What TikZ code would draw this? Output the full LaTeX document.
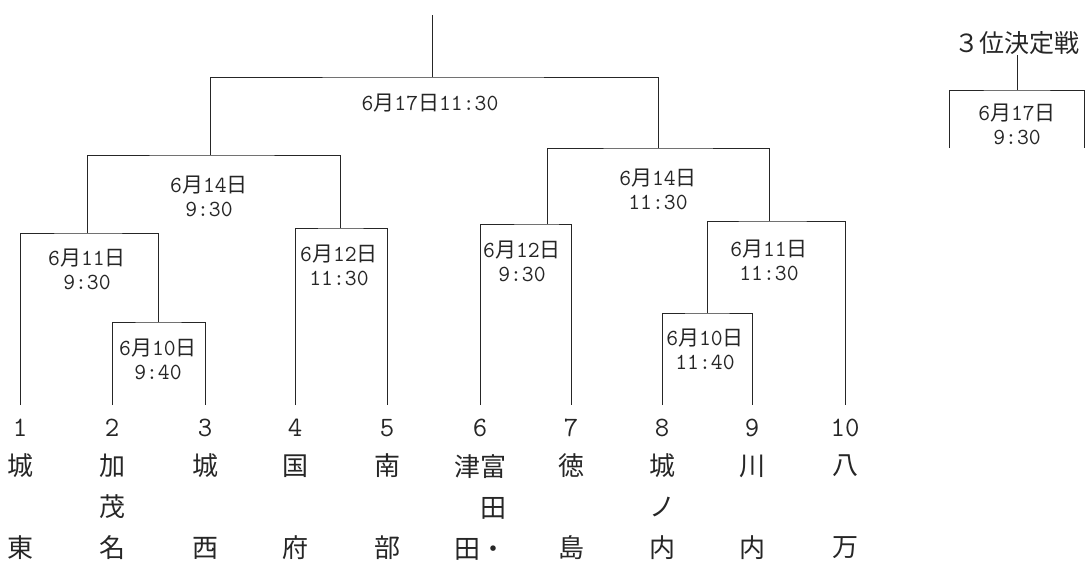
\documentclass[tikz,border=0pt]{standalone}
\usepackage{fontspec}
\usepackage{tikz}
\newfontfamily\jp{Noto Sans CJK JP}
\newcommand{\kj}[1]{{\jp\fontsize{21}{24}\selectfont #1}}

\begin{document}
\begin{tikzpicture}[
            x=1pt, y=-1pt,
            line width=1pt, color=black!85,
            lbl/.style={align=center, inner sep=0pt, font=\ttfamily\fontsize{23}{24}\selectfont}, % date and time of a match
            num/.style={inner sep=0pt, font=\ttfamily\fontsize{28}{28}\selectfont}, % draw number
            team/.style={align=center, inner sep=0pt, font=\jp\fontsize{26}{41}\selectfont} % school name, read top to bottom
            ]
        \useasboundingbox (0,0) rectangle (1087,566);

        % Draw numbers and schools under the bracket
        \foreach \i/\x/\name in {1/20/{城\\　\\東}, 2/112/{加\\茂\\名}, 3/205/{城\\　\\西},
                4/295/{国\\　\\府}, 5/387/{南\\　\\部}, 6/480/{津富\\　田\\田・}, 7/571/{徳\\　\\島},
                8/662/{城\\ノ\\内}, 9/752/{川\\　\\内}, 10/845/{八\\　\\万}} {
            \coordinate (t\i) at (\x,405);
            \node[num] (n\i) at (\x,428) {\i};
            \node[team] (s\i) at (\x,507) {\name};
        }

        % Top of each match
        \coordinate (mA) at (158,322);
        \coordinate (mB) at (87,233);
        \coordinate (mC) at (340,228);
        \coordinate (mD) at (210,155);
        \coordinate (mE) at (547,224);
        \coordinate (mF) at (658,148);
        \coordinate (mG) at (707,313);
        \coordinate (mH) at (769,221);
        \coordinate (mX) at (432,77);
        \coordinate (top) at (432,15);

        % Bracket lines
        \draw (t2) |- (mA) -| (t3);
        \draw (t1) |- (mB) -| (mA);
        \draw (t4) |- (mC) -| (t5);
        \draw (mB) |- (mD) -| (mC);
        \draw (t6) |- (mE) -| (t7);
        \draw (t8) |- (mG) -| (t9);
        \draw (mG) |- (mH) -| (t10);
        \draw (mE) |- (mF) -| (mH);
        \draw (mD) |- (mX) -| (mF);
        \draw (mX) -- (top);

        % Dates and times
        \node[lbl] (lA) at (158,359) {6\kj{月}10\kj{日}\\9:40};
        \node[lbl] (lB) at (87,269) {6\kj{月}11\kj{日}\\9:30};
        \node[lbl] (lC) at (339,265) {6\kj{月}12\kj{日}\\11:30};
        \node[lbl] (lD) at (209,196) {6\kj{月}14\kj{日}\\9:30};
        \node[lbl] (lE) at (522,261) {6\kj{月}12\kj{日}\\9:30};
        \node[lbl] (lF) at (658,189) {6\kj{月}14\kj{日}\\11:30};
        \node[lbl] (lG) at (705,349) {6\kj{月}10\kj{日}\\11:40};
        \node[lbl] (lH) at (769,260) {6\kj{月}11\kj{日}\\11:30};
        \node[lbl] (lX) at (430,103) {6\kj{月}17\kj{日}11:30};

        % Third place match
        \node[inner sep=0pt, font=\jp\fontsize{25}{25}\selectfont] (third) at (1017,43) {３位決定戦};
        \coordinate (m3) at (1017,90);
        \coordinate (l3) at (949,148);
        \coordinate (r3) at (1084,148);
        \draw (third) -- (m3);
        \draw (l3) |- (m3) -| (r3);
        \node[lbl] (l3t) at (1017,124) {6\kj{月}17\kj{日}\\9:30};

\end{tikzpicture}
\end{document}
